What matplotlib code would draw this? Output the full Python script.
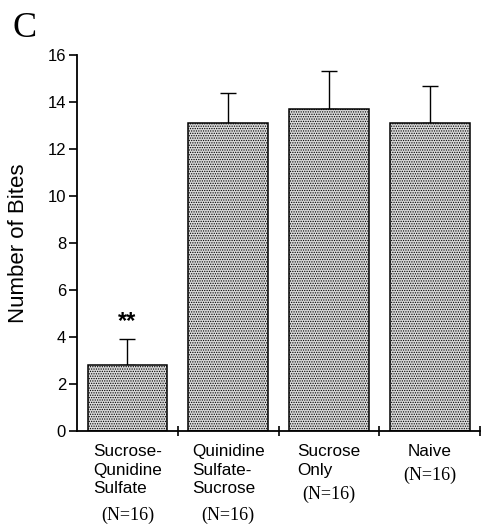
import matplotlib
matplotlib.use("Agg")
import matplotlib.pyplot as plt
import matplotlib.transforms as mtransforms

# Mean number of bites per group with upper SEM whiskers
groups = ["Sucrose-\nQunidine\nSulfate", "Quinidine\nSulfate-\nSucrose", "Sucrose\nOnly", "Naive"]
n_labels = ["(N=16)", "(N=16)", "(N=16)", "(N=16)"]
means = [2.8, 13.1, 13.7, 13.1]
sem = [1.1, 1.3, 1.6, 1.6]
signif = ["**", "", "", ""]
yticks = [0, 2, 4, 6, 8, 10, 12, 14, 16]

plt.rcParams["hatch.color"] = "#666666"
plt.rcParams["hatch.linewidth"] = 0.6

sans = ["Liberation Sans Narrow", "Liberation Sans", "DejaVu Sans"]
serif = ["Liberation Serif", "DejaVu Serif"]

fig = plt.figure(figsize=(4.85, 5.24), dpi=100)
ax = fig.add_axes([0.159, 0.1775, 0.831, 0.7175])

x = [i + 0.5 for i in range(len(means))]
ax.bar(x, means, width=0.79, color="#dadada", edgecolor="black",
       linewidth=1.1, hatch=".......", zorder=2)
ax.errorbar(x, means, yerr=[[0] * len(sem), sem], fmt="none", ecolor="black",
            elinewidth=1.0, capsize=5.5, capthick=1.0, zorder=1)

for xi, m, s, tag in zip(x, means, sem, signif):
    if tag:
        ax.text(xi, m + s + 0.25, tag, ha="center", va="bottom",
                fontsize=17, fontweight="bold", family=sans)

ax.set_xlim(0, 4)
ax.set_ylim(0, 16)
ax.set_yticks(yticks)
ax.set_yticklabels([str(t) for t in yticks], family=sans, fontsize=12)
ax.set_xticks([1, 2, 3, 4])
ax.set_xticklabels([])
ax.tick_params(axis="x", direction="inout", length=7, width=1.2)
ax.tick_params(axis="y", direction="out", length=6, width=1.2, pad=2)

for side in ("top", "right"):
    ax.spines[side].set_visible(False)
for side in ("left", "bottom"):
    ax.spines[side].set_linewidth(1.3)

ax.set_ylabel("Number of Bites", family=sans, fontsize=16, labelpad=13)

# Group names and sample sizes under each bar
trans = mtransforms.blended_transform_factory(ax.transData, fig.transFigure)
n_base_px = [520, 520, 499, 480]
for xi, name, nlab, nb in zip(x, groups, n_labels, n_base_px):
    ax.text(xi, 1 - 444 / 524, name, transform=trans, ha="center", va="top",
            multialignment="left", fontsize=12.3,
            family=["Liberation Sans", "DejaVu Sans"], linespacing=1.3)
    ax.text(xi, 1 - nb / 524, nlab, transform=trans, ha="center", va="baseline",
            fontsize=13, family=serif)

fig.text(13 / 485, 1 - 37 / 524, "C", fontsize=26,
         family=serif, ha="left", va="baseline")

fig.savefig("out.png", dpi=100)
